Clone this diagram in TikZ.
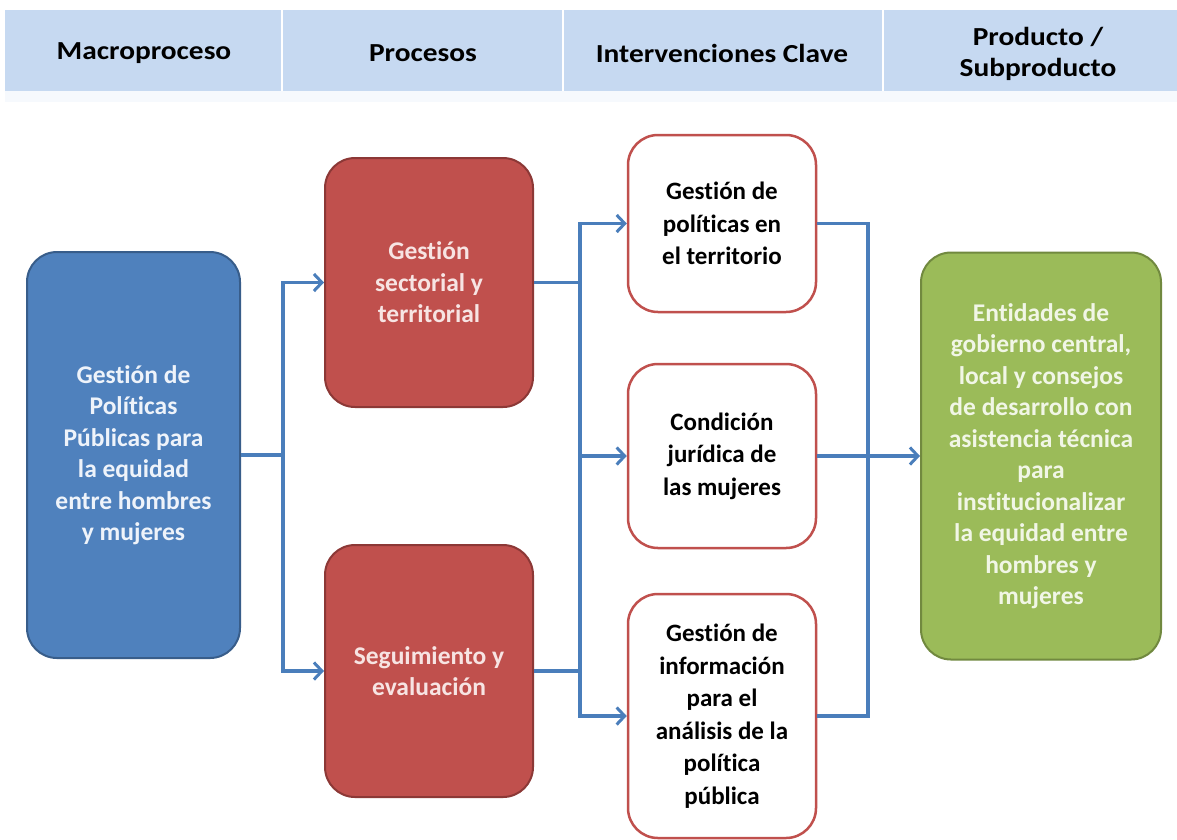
\documentclass[tikz,border=0pt]{standalone}
\usepackage{fontspec}
\setmainfont{Carlito}[RawFeature={-liga;-clig;-calt;-dlig}]
\newfontfamily\hdrfont{Carlito}[RawFeature={-liga;-clig;-calt;-dlig},FakeStretch=1.13]
\usetikzlibrary{arrows.meta}
\newcommand{\nolig}{\kern0pt\relax}
\definecolor{hdr}{HTML}{C6D9F1}
\definecolor{bfill}{HTML}{4F81BD}
\definecolor{bdraw}{HTML}{385D8A}
\definecolor{rfill}{HTML}{C0504D}
\definecolor{rdraw}{HTML}{8C3836}
\definecolor{gfill}{HTML}{9BBB59}
\definecolor{gdraw}{HTML}{71893F}
\definecolor{conn}{HTML}{4A7EBB}
\definecolor{btxt}{HTML}{EEF3FA}
\definecolor{rtxt}{HTML}{F7E4E3}
\definecolor{gtxt}{HTML}{F1F6E6}
\tikzset{
  hdrtxt/.style={font=\hdrfont\fontsize{26}{31}\selectfont\bfseries, text=black, align=center, inner sep=0pt},
  boxbase/.style={rounded corners=30pt, align=center, inner sep=0pt, font=\fontsize{25.5}{31.5}\selectfont\bfseries},
  macbox/.style={boxbase, fill=bfill, draw=bdraw, line width=2pt, text=btxt},
  procbox/.style={boxbase, fill=rfill, draw=rdraw, line width=2pt, text=rtxt},
  intbox/.style={boxbase, fill=white, draw=rfill, line width=2.5pt, text=black, font=\fontsize{25}{32.5}\selectfont\bfseries},
  prodbox/.style={boxbase, fill=gfill, draw=gdraw, line width=2pt, text=gtxt},
  link/.style={draw=conn, line width=3.5pt},
  arr/.style={link, -{Straight Barb[length=8pt,width=17pt,line width=3pt]}}
}
\begin{document}
\begin{tikzpicture}[x=1pt,y=-1pt]
\useasboundingbox (0,0) rectangle (1177,839);
\fill[white] (0,0) rectangle (1177,839);
% header band
\fill[hdr] (5,10) rectangle (1177,91);
\fill[hdr!15!white] (5,91) rectangle (1177,102);
\draw[white, line width=1.5pt] (282,10) -- (282,91);
\draw[white, line width=1.5pt] (563,10) -- (563,91);
\draw[white, line width=1.5pt] (883,10) -- (883,91);
\node[hdrtxt] (h1) at (144,53) {Macroproceso};
\node[hdrtxt] (h2) at (423,53) {Procesos};
\node[hdrtxt] (h3) at (722,53) {Intervenciones Clave};
\node[hdrtxt] (h4) at (1038,54) {Producto /\\Subproducto};
% boxes
\node[macbox, minimum width=213pt, minimum height=406pt] (mac) at (133.5,455) {Gestión de\\Polít\nolig icas\\Públicas para\\la equidad\\entre hombres\\y mujeres};
\node[procbox, minimum width=208pt, minimum height=249pt] (p1) at (429,282.5) {Gestión\\sectorial y\\territorial};
\node[procbox, minimum width=208pt, minimum height=252pt] (p2) at (429,671) {Seguimiento y\\evaluación};
\node[intbox, minimum width=188pt, minimum height=177pt] (i1) at (722,223.5) {Gestión de\\polít\nolig icas en\\el territorio};
\node[intbox, minimum width=188pt, minimum height=184pt] (i2) at (722,456) {Condición\\jurídica de\\las mujeres};
\node[intbox, minimum width=188pt, minimum height=244pt] (i3) at (722,716) {Gestión de\\información\\para el\\análisis de la\\polít\nolig ica\\pública};
\node[prodbox, minimum width=240pt, minimum height=407pt] (prod) at (1041,456) {Entidades de\\gobierno central,\\local y consejos\\de desarrollo con\\asistencia técnica\\para\\institucionalizar\\la equidad entre\\hombres y\\mujeres};
% junction coordinates
\coordinate (ja) at (283,455);
\coordinate (jb) at (580,282.5);
\coordinate (jc) at (580,671);
\coordinate (jd) at (868,456);
% connectors
\draw[link] (mac.east) -- (ja);
\draw[arr] (ja) |- (p1.west);
\draw[arr] (ja) |- (p2.west);
\draw[link] (p1.east) -- (jb);
\draw[link] (p2.east) -- (jc);
\draw[arr] (jb) |- (i1.west);
\draw[arr] (jb) |- (i2.west);
\draw[arr] (jc) |- (i3.west);
\draw[link] (jb) -- (jc);
\draw[link] (i1.east) -| (jd);
\draw[link] (i3.east) -| (jd);
\draw[link] (i2.east) -- (jd);
\draw[arr] (jd) -- (prod.west);
\end{tikzpicture}
\end{document}
